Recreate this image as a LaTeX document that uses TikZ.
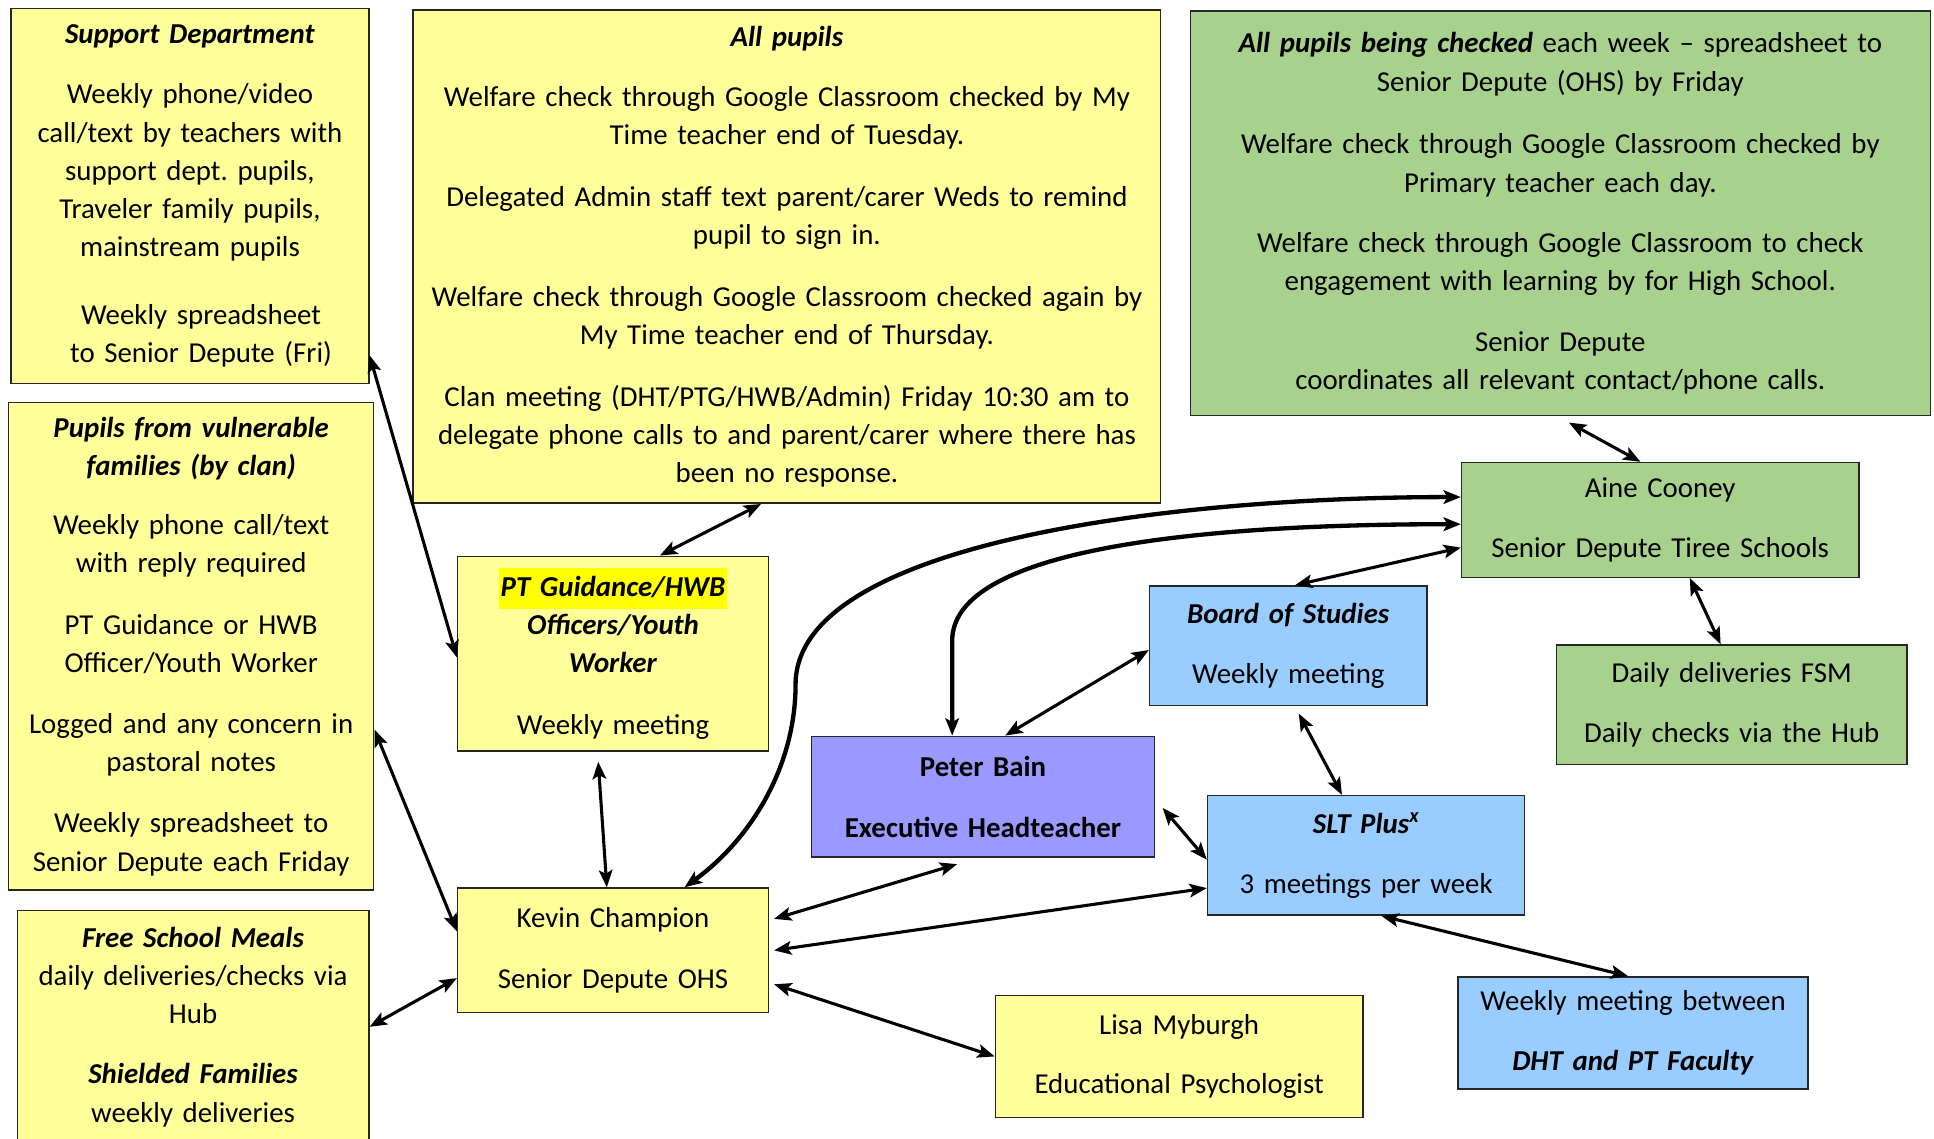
\documentclass[tikz,border=0pt]{standalone}
\usepackage{fontspec}
\setmainfont{Carlito}
\usetikzlibrary{arrows.meta}
\definecolor{boxyellow}{HTML}{FFFF99}
\definecolor{boxgreen}{HTML}{A9D18E}
\definecolor{boxblue}{HTML}{99CCFF}
\definecolor{boxpurple}{HTML}{9999FF}
\definecolor{marker}{HTML}{FFFF00}
\newcommand{\bi}[1]{\textbf{\textit{#1}}}
\frenchspacing

\begin{document}
\begin{tikzpicture}[x=1pt, y=-1pt, line width=2.5pt,
	arrows={Stealth[length=14pt,width=11pt,inset=3pt]-Stealth[length=14pt,width=11pt,inset=3pt]},
	box/.style={draw=black!85, line width=1.2pt, fill=#1, align=center, inner sep=0pt,
		font=\fontsize{23.4pt}{31pt}\selectfont},
	curveline/.style={line width=3.5pt}]
	\useasboundingbox (0,0) rectangle (1568,923);

	\node[box=boxyellow, minimum width=290pt, minimum height=304pt, text width=284pt] (S) at (154,159)
		{\bi{Support Department}\\[18pt] Weekly phone/video\\ call/text by teachers with\\ support dept. pupils,\\ Traveler family pupils,\\ mainstream pupils\\[24pt] \hspace*{18pt}Weekly spreadsheet\\ \hspace*{18pt}to Senior Depute (Fri)};
	\node[box=boxyellow, minimum width=296pt, minimum height=395pt, text width=290pt] (V) at (155,524)
		{\bi{Pupils from vulnerable}\\ \bi{families (by clan)}\\[17pt] Weekly phone call/text\\ with reply required\\[19pt] PT Guidance or HWB\\ Officer/Youth Worker\\[18pt] Logged and any concern in\\ pastoral notes\\[19pt] Weekly spreadsheet to\\ Senior Depute each Friday};
	\node[box=boxyellow, minimum width=285pt, minimum height=189pt, text width=280pt] (F) at (156.5,832.5)
		{\bi{Free School Meals}\\ daily deliveries/checks via\\ Hub\\[18pt] \bi{Shielded Families}\\ weekly deliveries};
	\node[box=boxyellow, minimum width=606pt, minimum height=400pt, text width=600pt] (A) at (638,208)
		{\bi{All pupils}\\[18pt] Welfare check through Google Classroom checked by My\\ Time teacher end of Tuesday.\\[19pt] Delegated Admin staff text parent/carer Weds to remind\\ pupil to sign in.\\[19pt] Welfare check through Google Classroom checked again by\\ My Time teacher end of Thursday.\\[19pt] Clan meeting (DHT/PTG/HWB/Admin) Friday 10:30 am to\\ delegate phone calls to and parent/carer where there has\\ been no response.};
	\node[box=boxgreen, minimum width=600pt, minimum height=328pt, text width=594pt] (G) at (1265,173)
		{\bi{All pupils being checked} each week -- spreadsheet to\\ Senior Depute (OHS) by Friday\\[20pt] Welfare check through Google Classroom checked by\\ Primary teacher each day.\\[18pt] Welfare check through Google Classroom to check\\ engagement with learning by for High School.\\[18pt] Senior Depute\\ coordinates all relevant contact/phone calls.};
	\node[box=boxyellow, minimum width=252pt, minimum height=158pt, text width=246pt] (PT) at (497,530)
		{{\setlength\fboxsep{1pt}\colorbox{marker}{\strut\bi{PT Guidance/HWB}}}\\ \bi{Officers/Youth}\\ \bi{Worker}\\[19pt] Weekly meeting};
	\node[box=boxyellow, minimum width=252pt, minimum height=101pt, text width=246pt] (K) at (497,770.5)
		{Kevin Champion\\[18pt] Senior Depute OHS};
	\node[box=boxpurple, minimum width=278pt, minimum height=98pt, text width=272pt] (PB) at (797,646)
		{\textbf{Peter Bain}\\[18pt] \textbf{Executive Headteacher}};
	\node[box=boxblue, minimum width=225pt, minimum height=97pt, text width=219pt] (B) at (1044.5,523.5)
		{\bi{Board of Studies}\\[18pt] Weekly meeting};
	\node[box=boxblue, minimum width=257pt, minimum height=97pt, text width=251pt] (SLT) at (1107.5,693.5)
		{\bi{SLT Plus\textsuperscript{x}}\\[18pt] 3 meetings per week};
	\node[box=boxgreen, minimum width=322pt, minimum height=93pt, text width=316pt] (AC) at (1346,421.5)
		{Aine Cooney\\[17pt] Senior Depute Tiree Schools};
	\node[box=boxgreen, minimum width=284pt, minimum height=97pt, text width=278pt] (D) at (1404,571.5)
		{Daily deliveries FSM\\[17pt] Daily checks via the Hub};
	\node[box=boxblue, minimum width=284pt, minimum height=91pt, text width=278pt] (W) at (1324,837.5)
		{Weekly meeting between\\[18pt] \bi{DHT and PT Faculty}};
	\node[box=boxyellow, minimum width=298pt, minimum height=99pt, text width=292pt] (L) at (956,856.5)
		{Lisa Myburgh\\[17pt] Educational Psychologist};

	\draw ([yshift=-129pt]S.east) -- ([yshift=-3pt]PT.west);
	\draw ([yshift=-67.5pt]V.east) -- ([yshift=15.5pt]K.west);
	\draw (F.east) -- ([yshift=-22.5pt]K.west);
	\draw ([xshift=-21pt]A.south) -- ([xshift=38pt]PT.north);
	\draw ([xshift=-12pt,yshift=-8pt]PT.south) -- ([xshift=-5pt]K.north);
	\draw[curveline] ([xshift=58pt]K.north) .. controls +(55,-40) and +(0,65) .. (645,555)
		.. controls +(0,-115) and +(-235,0) .. ([yshift=18.5pt]AC.west);
	\draw[curveline] ([xshift=-25pt]PB.north) -- ++(0,-77)
		.. controls +(0,-70) and +(-235,0) .. ([yshift=-3.5pt]AC.west);
	\draw ([xshift=5.5pt]B.north) -- ([yshift=-22.5pt]AC.west);
	\draw ([xshift=18pt]PB.north) -- ([yshift=-3.5pt]B.west);
	\draw ([xshift=8.5pt,yshift=-6pt]B.south) -- ([xshift=-19.5pt]SLT.north);
	\draw ([xshift=6pt,yshift=-9pt]PB.east) -- ([yshift=-3.5pt]SLT.west);
	\draw ([xshift=4pt,yshift=25.5pt]K.east) -- ([xshift=-21pt,yshift=-5pt]PB.south);
	\draw ([xshift=4pt]K.east) -- ([yshift=-26.5pt]SLT.west);
	\draw ([xshift=4pt,yshift=-27.5pt]K.east) -- (L.west);
	\draw ([xshift=12.5pt]SLT.south) -- ([xshift=-4pt]W.north);
	\draw ([xshift=7pt,yshift=-5pt]G.south) -- ([xshift=-16pt]AC.north);
	\draw ([xshift=24pt]AC.south) -- ([xshift=-9pt]D.north);
\end{tikzpicture}
\end{document}
